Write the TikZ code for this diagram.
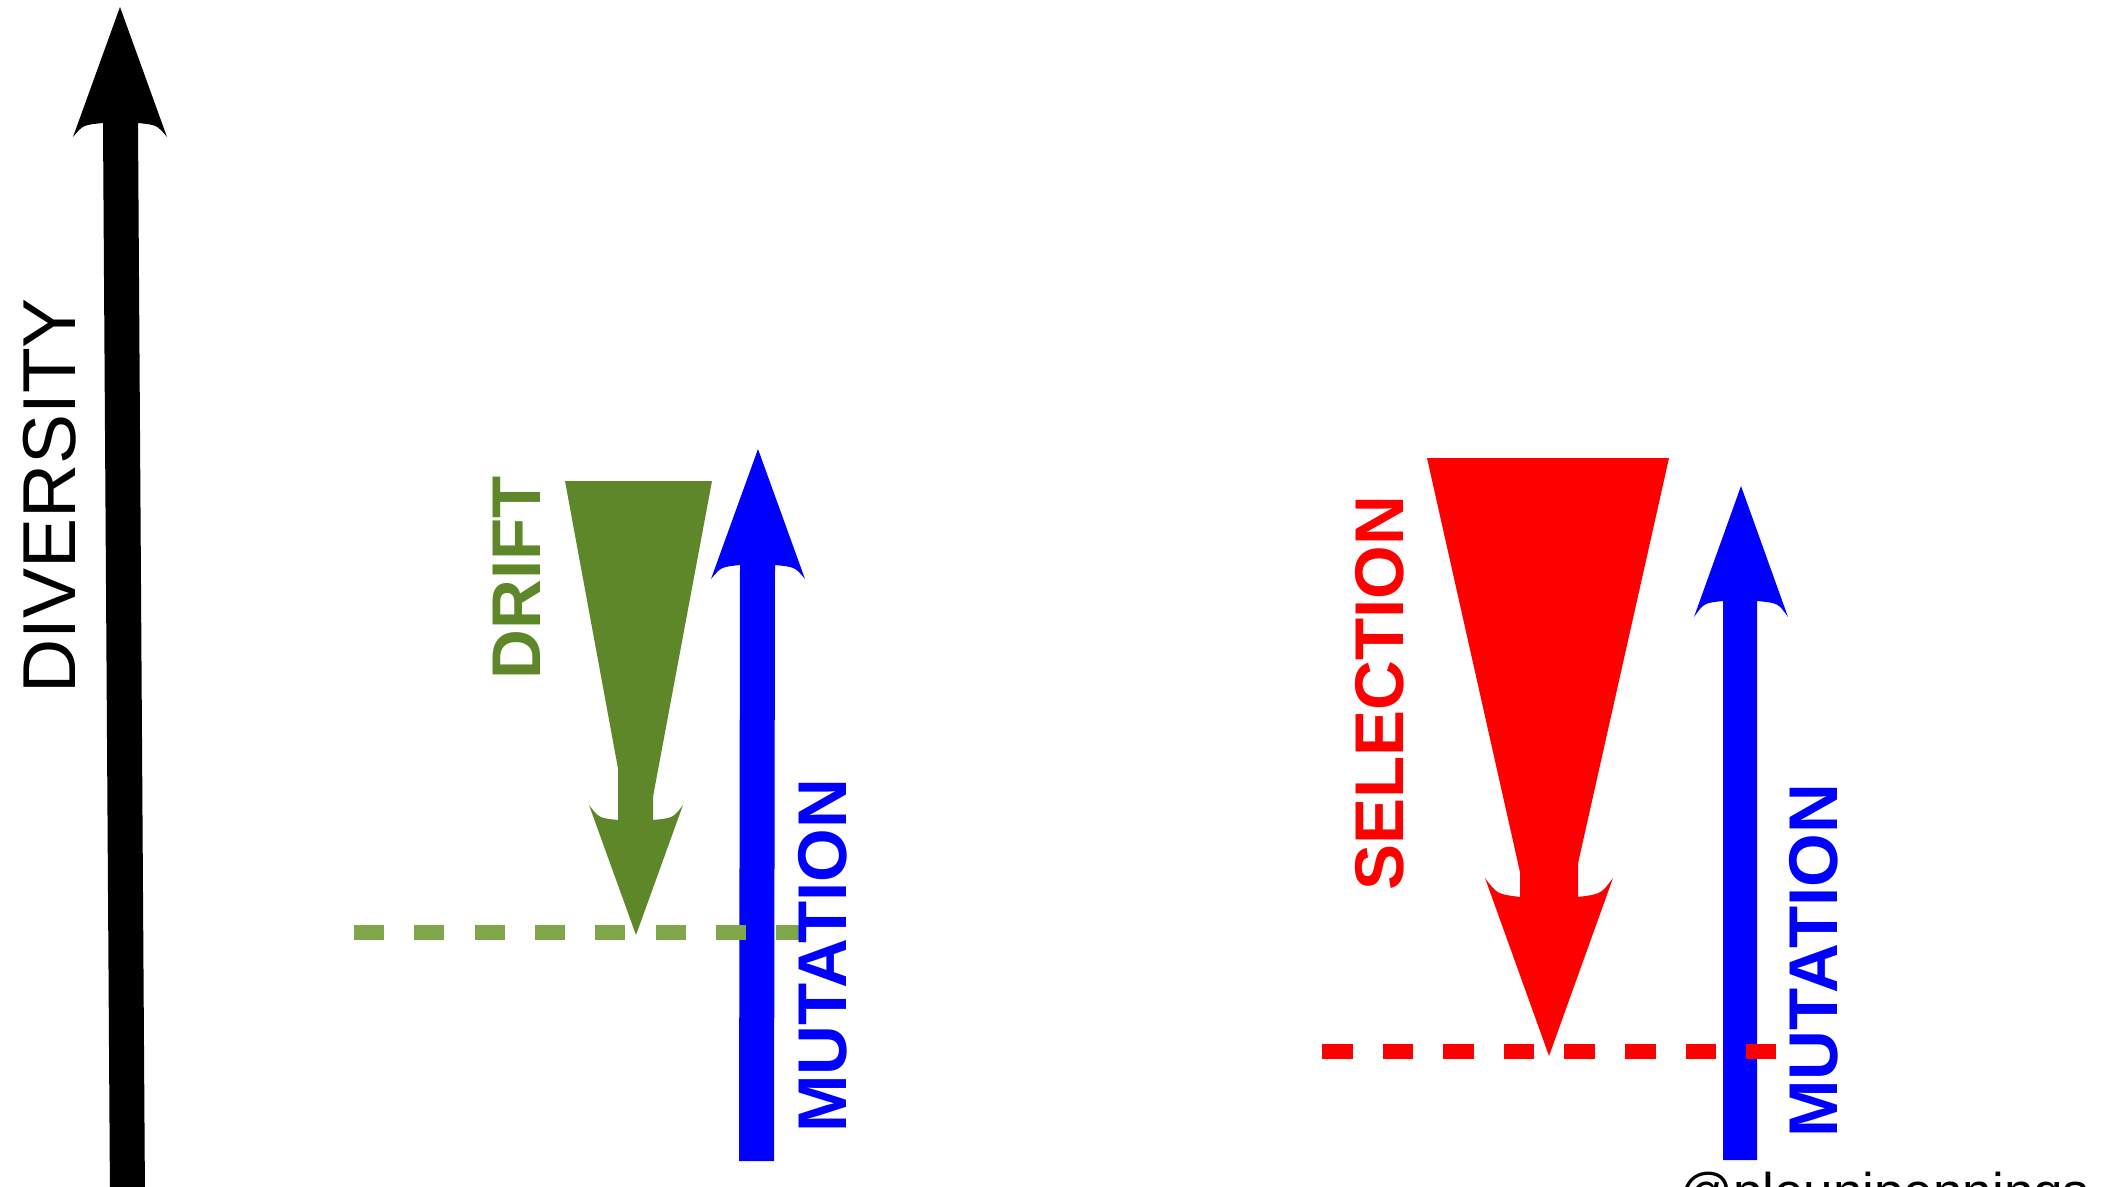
\documentclass[tikz,border=0pt]{standalone}
\usepackage{fontspec}
\setmainfont{Liberation Sans}
\definecolor{driftgreen}{RGB}{94,135,41}
\definecolor{dashgreen}{RGB}{127,167,74}
\definecolor{mutblue}{RGB}{0,0,255}
\definecolor{selred}{RGB}{255,0,0}
\begin{document}
\begin{tikzpicture}[x=1pt,y=-1pt,
  lbl/.style={inner sep=0pt, outer sep=0pt, rotate=90},
  boldlbl/.style={lbl, font=\bfseries\fontsize{69}{72}\selectfont},
  dashline/.style={line width=15pt}]
\useasboundingbox (0,0) rectangle (2112,1186);
\clip (0,0) rectangle (2112,1186);

% Diversity axis (black arrow)
\fill[black] (120,7) -- (167,137) .. controls (157,125) .. (138,123)
  -- (145,1200) -- (110,1200) -- (103,123) .. controls (83,125) .. (73,137) -- cycle;
\node[lbl, font=\fontsize{75}{80}\selectfont] (div) at (50,496) {DIVERSITY};

% Drift (green)
\fill[driftgreen] (565,481) -- (712,481) -- (638,877) -- cycle;
\fill[driftgreen] (618,760) -- (653,760) -- (653,820) .. controls (673,818) .. (683,805)
  -- (636,935) -- (589,805) .. controls (599,818) .. (618,820) -- cycle;
\node[boldlbl, text=driftgreen] (drift) at (517,578) {DRIFT};

% Mutation 1 (blue)
\fill[mutblue] (758,449) -- (805,579) .. controls (795,567) .. (775,565)
  -- (774,1161) -- (739,1161) -- (740,565) .. controls (721,567) .. (711,579) -- cycle;

\draw[dashline, dashgreen, dash pattern=on 30pt off 30.3pt] (354,932.5) -- (806,932.5);
\node[boldlbl, text=mutblue] (mut1) at (823,956) {MUTATION};

% Selection (red)
\fill[selred] (1427,458) -- (1669,458) -- (1548,997) -- cycle;
\fill[selred] (1520,850) -- (1578,850) -- (1578,897) .. controls (1601,894) .. (1613,878)
  -- (1549,1056) -- (1485,878) .. controls (1497,894) .. (1520,897) -- cycle;
\node[boldlbl, text=selred] (sel) at (1380,693) {SELECTION};

% Mutation 2 (blue)
\fill[mutblue] (1741,486) -- (1788,617) .. controls (1778,603) .. (1757,601)
  -- (1757,1160) -- (1723,1160) -- (1723,601) .. controls (1704,603) .. (1694,617) -- cycle;

\draw[dashline, selred, dash pattern=on 30.5pt off 30.1pt] (1322,1051) -- (1776,1051);
\node[boldlbl, text=mutblue] (mut2) at (1814,961) {MUTATION};

\node[anchor=base west, inner sep=0pt, font=\fontsize{53}{60}\selectfont] (handle) at (1679,1210) {@pleunipennings};
\end{tikzpicture}
\end{document}
